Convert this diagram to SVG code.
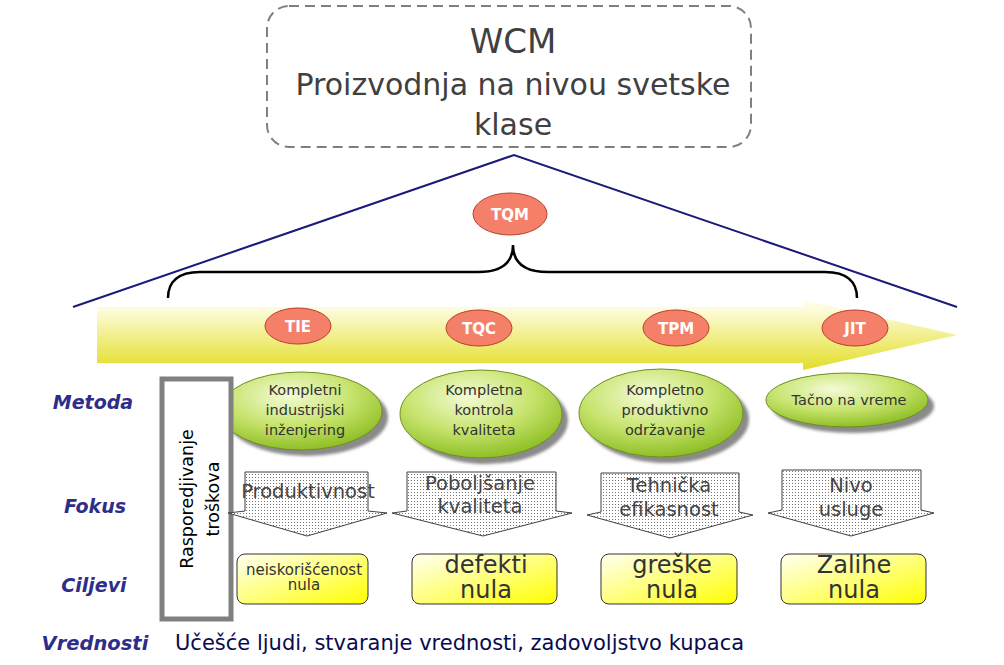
<svg xmlns="http://www.w3.org/2000/svg" width="1004" height="665" viewBox="0 0 1004 665">
<defs>
<style>
.f{font-family:"DejaVu Sans","Verdana",sans-serif;}
.title{font-size:30px;fill:#404040;text-anchor:middle;}
.oval{fill:#F5806A;stroke:#B8402A;stroke-width:1;}
.ovt{font-size:15px;font-weight:bold;fill:#fff;text-anchor:middle;}
.gr{fill:url(#greenG);stroke:#6E8F1E;stroke-width:1;}
.sh{fill:#8a8a8a;filter:url(#blur);}
.gt{font-size:14.5px;fill:#333;text-anchor:middle;}
.dn{fill:url(#dots);stroke:#404040;stroke-width:1;}
.dt{font-size:19.5px;fill:#444;text-anchor:middle;}
.yb{fill:url(#yelG);stroke:#333;stroke-width:1;}
.yt{font-size:24px;fill:#333;text-anchor:middle;}
.bt{font-size:15px;fill:#333;text-anchor:middle;}
.lab{font-family:"DejaVu Sans","Verdana",sans-serif;font-size:19px;font-weight:bold;font-style:italic;fill:#2E2E8A;text-anchor:middle;}
</style>
<linearGradient id="arrowG" x1="0" y1="0" x2="0" y2="1">
<stop offset="0" stop-color="#FFFEEC"/>
<stop offset="0.15" stop-color="#FDFBD8"/>
<stop offset="1" stop-color="#E2DE28"/>
</linearGradient>
<radialGradient id="greenG" cx="0.42" cy="0.3" r="0.72">
<stop offset="0" stop-color="#F4FBD6"/>
<stop offset="0.55" stop-color="#C6E36C"/>
<stop offset="1" stop-color="#8CBD22"/>
</radialGradient>
<linearGradient id="yelG" x1="0" y1="0" x2="1" y2="1">
<stop offset="0" stop-color="#FFFFF2"/>
<stop offset="0.55" stop-color="#FFFF70"/>
<stop offset="1" stop-color="#FFFF00"/>
</linearGradient>
<pattern id="dots" width="3" height="3" patternUnits="userSpaceOnUse">
<rect width="3" height="3" fill="#fff"/>
<rect width="1" height="1" fill="#777"/>
</pattern>
<filter id="blur" x="-10%" y="-10%" width="120%" height="120%"><feGaussianBlur stdDeviation="1.5"/></filter>
</defs>

<g id="wcm">
<rect x="267" y="6" width="484" height="141" rx="22" fill="#fff" stroke="#808080" stroke-width="2" stroke-dasharray="10,6"/>
<text class="f title" x="513" y="53" style="font-size:34px">WCM</text>
<text class="f title" x="513" y="95">Proizvodnja na nivou svetske</text>
<text class="f title" x="513" y="135">klase</text>
</g>

<g id="connectors">
<polyline points="73,307 514,155 957,307" stroke="#1A1A7A" stroke-width="2" fill="none"/>
<path d="M168,298 C168,282 178,272 200,272 L478,272 C500,272 513,264 513,245 C513,264 526,272 548,272 L825,272 C847,272 857,282 857,298" stroke="#000" stroke-width="2.5" fill="none"/>
</g>

<g id="flow-arrow">
<polygon points="97,307 803,307 803,300 957,335 803,370 803,363 97,363" fill="url(#arrowG)"/>
</g>

<g id="tqm"><ellipse class="oval" cx="510" cy="214" rx="37" ry="21"/><text class="f ovt" x="510" y="219.5">TQM</text></g>
<g id="tie"><ellipse class="oval" cx="298" cy="326" rx="33" ry="18"/><text class="f ovt" x="298" y="331.5">TIE</text></g>
<g id="tqc"><ellipse class="oval" cx="479" cy="328" rx="33" ry="18"/><text class="f ovt" x="479" y="333.5">TQC</text></g>
<g id="tpm"><ellipse class="oval" cx="676" cy="328" rx="33" ry="18"/><text class="f ovt" x="676" y="333.5">TPM</text></g>
<g id="jit"><ellipse class="oval" cx="855" cy="328" rx="33" ry="18"/><text class="f ovt" x="855" y="333.5">JIT</text></g>

<g id="m1"><ellipse class="sh" cx="307" cy="417" rx="81" ry="39"/><ellipse class="gr" cx="301" cy="411" rx="81" ry="39"/>
<text class="f gt" x="305" y="395">Kompletni</text><text class="f gt" x="305" y="415">industrijski</text><text class="f gt" x="305" y="435">inženjering</text></g>
<g id="m2"><ellipse class="sh" cx="487" cy="420" rx="81" ry="44"/><ellipse class="gr" cx="481" cy="414" rx="81" ry="44"/>
<text class="f gt" x="484" y="395">Kompletna</text><text class="f gt" x="484" y="415">kontrola</text><text class="f gt" x="484" y="435">kvaliteta</text></g>
<g id="m3"><ellipse class="sh" cx="667" cy="419" rx="82" ry="44"/><ellipse class="gr" cx="661" cy="413" rx="82" ry="44"/>
<text class="f gt" x="665" y="395">Kompletno</text><text class="f gt" x="665" y="415">produktivno</text><text class="f gt" x="665" y="435">održavanje</text></g>
<g id="m4"><ellipse class="sh" cx="853" cy="406" rx="81" ry="27"/><ellipse class="gr" cx="847" cy="400" rx="81" ry="27"/>
<text class="f gt" x="849" y="405">Tačno na vreme</text></g>

<g id="cost">
<rect x="162" y="379" width="69" height="240" fill="#fff" stroke="#808080" stroke-width="5"/>
<text class="f" transform="translate(200,499) rotate(-90)" text-anchor="middle" font-size="17.5" fill="#000"><tspan x="0" y="-7">Rasporedjivanje</tspan><tspan x="0" y="19">troškova</tspan></text>
</g>

<g id="f1"><path class="dn" d="M245,472 H368 V511 L387,513 L307,536 L228,513 L245,511 Z"/><text class="f dt" x="308" y="498">Produktivnost</text></g>
<g id="f2"><path class="dn" d="M407,472 H556 V511 L572,513 L483,536 L392,513 L407,511 Z"/><text class="f dt" x="480" y="490">Poboljšanje</text><text class="f dt" x="480" y="513">kvaliteta</text></g>
<g id="f3"><path class="dn" d="M601,473 H739 V512 L753,515 L670,538 L587,515 L601,512 Z"/><text class="f dt" x="669" y="492">Tehnička</text><text class="f dt" x="669" y="516">efikasnost</text></g>
<g id="f4"><path class="dn" d="M782,470 H921 V510 L934,513 L851,536 L768,513 L782,510 Z"/><text class="f dt" x="851" y="492">Nivo</text><text class="f dt" x="851" y="516">usluge</text></g>

<g id="c1"><rect class="yb" x="237" y="554" width="131" height="50" rx="8"/><text class="f bt" x="304" y="575">neiskorišćenost</text><text class="f bt" x="304" y="590">nula</text></g>
<g id="c2"><rect class="yb" x="412" y="554" width="145" height="50" rx="8"/><text class="f yt" x="486" y="573">defekti</text><text class="f yt" x="486" y="598">nula</text></g>
<g id="c3"><rect class="yb" x="601" y="554" width="136" height="50" rx="8"/><text class="f yt" x="672" y="573">greške</text><text class="f yt" x="672" y="598">nula</text></g>
<g id="c4"><rect class="yb" x="781" y="554" width="145" height="50" rx="8"/><text class="f yt" x="854" y="573">Zalihe</text><text class="f yt" x="854" y="598">nula</text></g>

<g id="labels">
<text class="lab" x="93" y="409">Metoda</text>
<text class="lab" x="95" y="513">Fokus</text>
<text class="lab" x="94" y="592">Ciljevi</text>
<text class="lab" x="95" y="650" style="font-size:19.5px">Vrednosti</text>
</g>
<g id="values"><text class="f" x="175" y="650" font-size="21" fill="#0A0A50">Učešće ljudi, stvaranje vrednosti, zadovoljstvo kupaca</text></g>
</svg>
